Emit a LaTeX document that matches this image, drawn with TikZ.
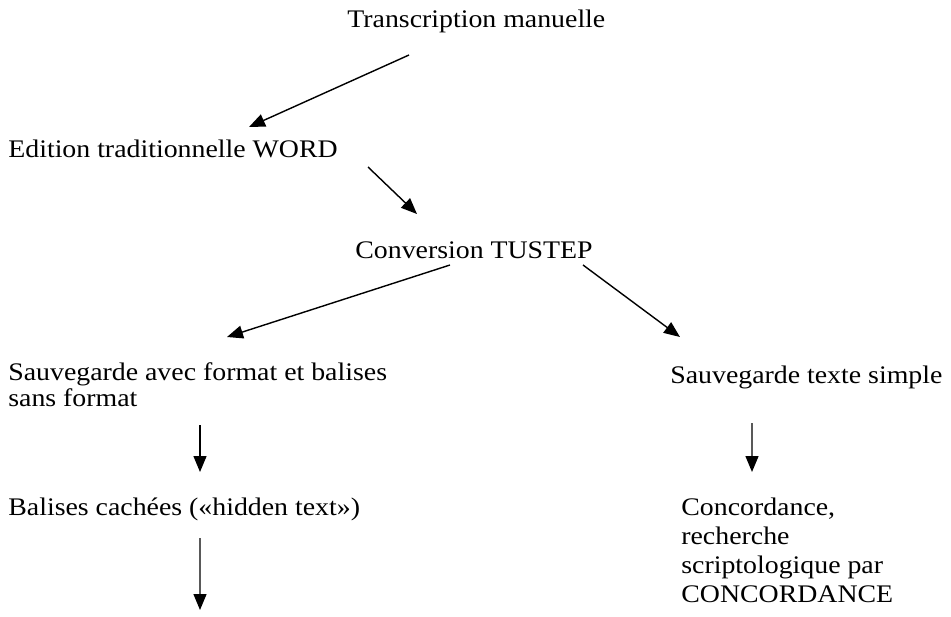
\documentclass[tikz,border=0pt]{standalone}
\usepackage{fontspec}
\setmainfont{Liberation Serif}[FakeStretch=1.1]
\usetikzlibrary{arrows.meta}

\begin{document}
\begin{tikzpicture}[font=\fontsize{14.4}{17}\selectfont,
  lbl/.style={anchor=base west,inner sep=0pt,align=left},
  arr/.style={line width=0.8pt,-{Triangle[length=0.32cm,width=0.26cm]}}]
\useasboundingbox (0,0) rectangle (19.02,-12.32);
\node[lbl] (trans) at (6.94,-0.54) {Transcription manuelle};
\node[lbl] (edition) at (0.16,-3.14) {Edition traditionnelle WORD};
\node[lbl] (conv) at (7.10,-5.16) {Conversion TUSTEP};
\node[lbl,font=\fontsize{14.4}{14.5}\selectfont] (savfmt) at (0.16,-8.12) {Sauvegarde avec format et balises\\sans format};
\node[lbl] (savtxt) at (13.40,-7.66) {Sauvegarde texte simple};
\node[lbl] (balises) at (0.16,-10.30) {Balises cach\'ees (\guillemotleft hidden text\guillemotright)};
\node[lbl,font=\fontsize{14.4}{16.5}\selectfont] (conc) at (13.62,-12.04) {Concordance,\\recherche\\scriptologique par\\CONCORDANCE};
\coordinate (suite) at (4.00,-12.20);
\draw[arr] ([shift={(1.24,-0.56)}]trans.base west) -- ([shift={(4.82,0.60)}]edition.base west);
\draw[arr] ([shift={(7.20,-0.20)}]edition.base west) -- ([shift={(1.24,0.88)}]conv.base west);
\draw[arr] ([shift={(1.90,-0.14)}]conv.base west) -- ([shift={(4.38,1.38)}]savfmt.base west);
\draw[arr] ([shift={(4.56,-0.14)}]conv.base west) -- ([shift={(0.20,0.92)}]savtxt.base west);
\draw[arr] ([shift={(3.84,-0.38)}]savfmt.base west) -- ([shift={(3.84,0.86)}]balises.base west);
\draw[arr] ([shift={(1.64,-0.80)}]savtxt.base west) -- ([shift={(1.42,2.60)}]conc.base west);
\draw[arr] ([shift={(3.84,-0.46)}]balises.base west) -- (suite);
\end{tikzpicture}
\end{document}
